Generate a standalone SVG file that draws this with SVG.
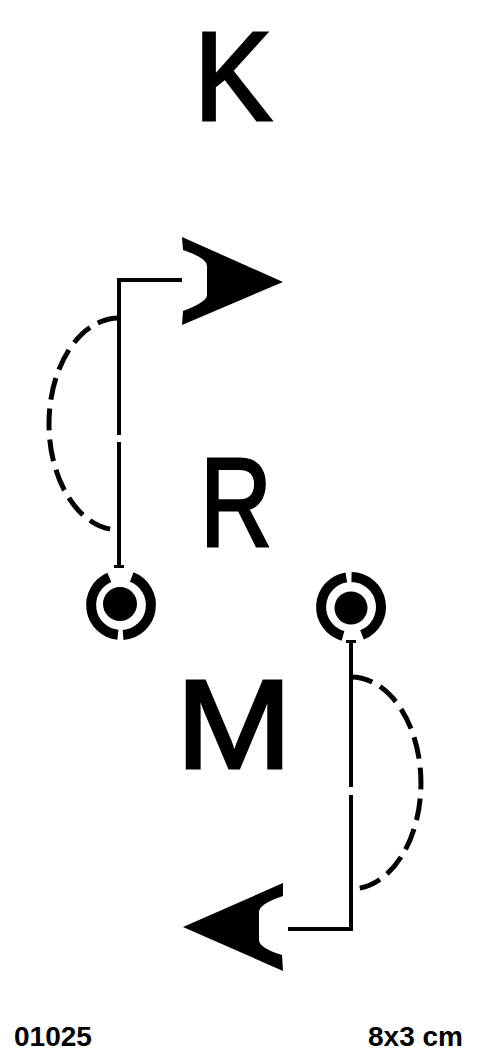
<svg xmlns="http://www.w3.org/2000/svg" width="488" height="1063" viewBox="0 0 488 1063">
<style>
.ln{fill:none;stroke:#000;stroke-width:4;stroke-linecap:butt}
.dash{fill:none;stroke:#000;stroke-width:5;stroke-dasharray:22 9}
.ring{fill:none;stroke:#000;stroke-width:10}
.big{font-family:"Liberation Sans",Arial,sans-serif;font-size:126px;fill:#000;stroke:#000;stroke-width:3;text-anchor:middle}
.lab{font-family:"Liberation Sans",Arial,sans-serif;font-size:28px;font-weight:bold;fill:#000}
</style>
<rect width="488" height="1063" fill="#fff"/>
<g id="letter-K"><text class="big" x="233" y="120" textLength="78" lengthAdjust="spacingAndGlyphs">K</text></g>
<g id="letter-R"><text class="big" x="236" y="546" textLength="72" lengthAdjust="spacingAndGlyphs">R</text></g>
<g id="letter-M"><text class="big" x="234" y="768" textLength="116" lengthAdjust="spacingAndGlyphs">M</text></g>
<g id="circle-1">
<path class="ring" d="M131.75,577 A30,30 0 0 1 123.1,634.9"/>
<path class="ring" d="M117.9,634.8 A30,30 0 0 1 109.3,577.4"/>
<circle cx="120" cy="604" r="17"/>
</g>
<g id="circle-2">
<path class="ring" d="M351.5,577 A30,30 0 0 1 362,634.9"/>
<path class="ring" d="M343,635.9 A30,30 0 0 1 346.3,577.4"/>
<circle cx="351" cy="608" r="16.5"/>
</g>
<g id="connectors">
<path class="ln" d="M182,280 H119 V435 M119,442 V567"/>
<rect x="114" y="565" width="10" height="3"/>
<path class="dash" d="M119,318 A70,106 0 0 0 119,530"/>
<path d="M182,237 L183,250 Q207,258 207,266 L207,295 Q207,302 183,311 L182,325 L283,282 Z"/>
<path class="ln" d="M351,642 V787 M351,795 V929 H288"/>
<rect x="346" y="640" width="10" height="3"/>
<path class="dash" d="M351,677 A70,106 0 0 1 351,889"/>
<path d="M283,883 L283,896 Q259,904 259,912 L259,940 Q259,948 282,955 L283,971 L183,927 Z"/>
</g>
<g id="labels">
<text class="lab" x="14" y="1046">01025</text>
<text class="lab" x="368" y="1046">8x3 cm</text>
</g>
</svg>
